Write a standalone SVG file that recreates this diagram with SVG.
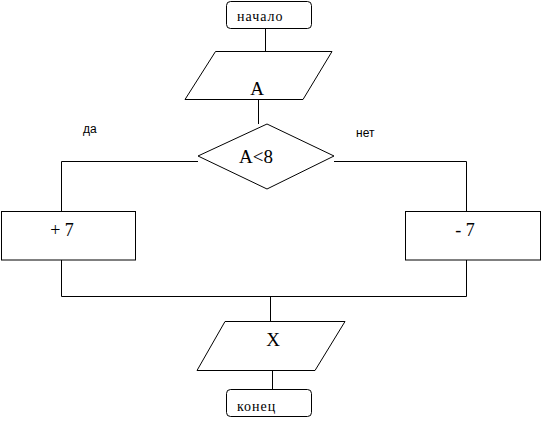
<svg xmlns="http://www.w3.org/2000/svg" width="543" height="438" viewBox="0 0 543 438">
<style>
.s{fill:#fff;stroke:#000;stroke-width:1}
.c{fill:none;stroke:#000;stroke-width:1}
.t{font-family:"Liberation Serif",serif;fill:#000}
.l{font-family:"Liberation Sans",Arial,sans-serif;font-size:12px;fill:#000}
</style>
<rect width="543" height="438" fill="#fff"/>
<g id="connectors">
<path class="c" d="M265.5 28V51"/>
<path class="c" d="M258.5 99V124"/>
<path class="c" d="M198 161.5H61.5V211"/>
<path class="c" d="M334 161.5H466.5V211"/>
<path class="c" d="M61.5 260V296.5H466.5V260"/>
<path class="c" d="M270.5 296.5V321"/>
<path class="c" d="M272.5 370V389"/>
</g>
<g id="start">
<rect class="s" x="226.5" y="1.5" width="85" height="27" rx="4"/>
<text class="t" x="237" y="21" font-size="14" letter-spacing="1">начало</text>
</g>
<g id="inputA">
<polygon class="s" points="215.5,51.5 332,51.5 303,99.5 185,99.5"/>
<text class="t" x="257" y="95" font-size="19" text-anchor="middle">A</text>
</g>
<g id="cond">
<polygon class="s" points="267,124 334,156 267,189 198,156"/>
<text class="t" x="256" y="163" font-size="19" text-anchor="middle">A&lt;8</text>
</g>
<g id="plus">
<rect class="s" x="1.5" y="211.5" width="134" height="48.5"/>
<text class="t" x="62" y="236" font-size="18" text-anchor="middle">+ 7</text>
</g>
<g id="minus">
<rect class="s" x="405.5" y="211.5" width="135" height="48.5"/>
<text class="t" x="465" y="236" font-size="18" text-anchor="middle">- 7</text>
</g>
<g id="outputX">
<polygon class="s" points="225,321.5 345,321.5 315,370.5 197,370.5"/>
<text class="t" x="273" y="346" font-size="19" text-anchor="middle">X</text>
</g>
<g id="end">
<rect class="s" x="226.5" y="389.5" width="85" height="27" rx="4"/>
<text class="t" x="237" y="411" font-size="14" letter-spacing="1">конец</text>
</g>
<text class="l" x="83" y="133">да</text>
<text class="l" x="356" y="137">нет</text>
</svg>
